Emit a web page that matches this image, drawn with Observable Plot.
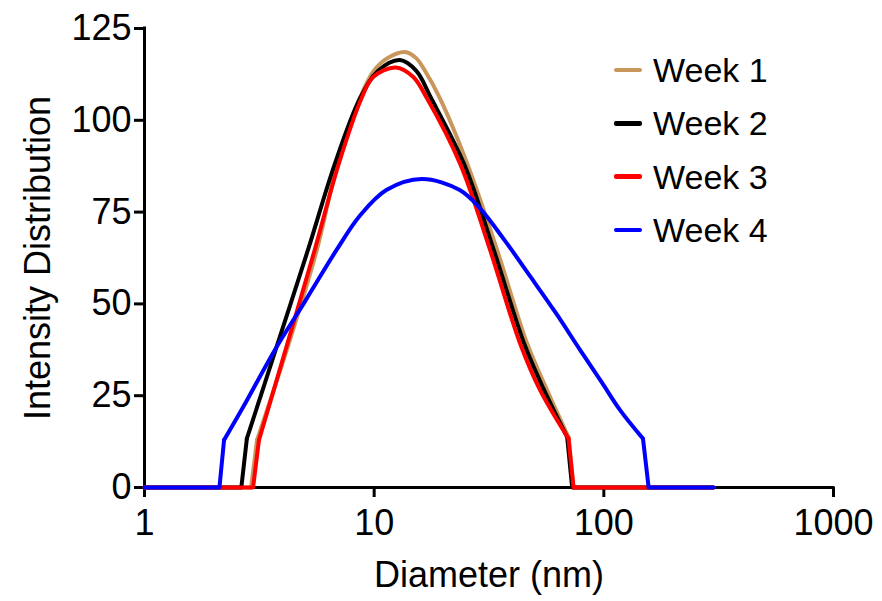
<!DOCTYPE html>
<html>
<head>
<meta charset="utf-8">
<script src="https://cdn.jsdelivr.net/npm/d3@7"></script>
<script src="https://cdn.jsdelivr.net/npm/@observablehq/plot@0.6"></script>
<style>
  html, body { margin: 0; padding: 0; background: #fff; overflow: hidden; }
  #wrap { position: relative; width: 882px; height: 601px; font-family: "Liberation Sans", Arial, sans-serif; }
  #legend { position: absolute; left: 614px; top: 43.3px; }
  .row { display: flex; align-items: center; height: 53.33px; font-size: 34px; line-height: 1; color: #000; }
  .sw { width: 28px; height: 4.5px; margin-right: 11px; border-radius: 2px; }
</style>
</head>
<body>
<div id="wrap"></div>
<script>
// ---- data ----
const seriesNames = ["Week 1", "Week 2", "Week 3", "Week 4"];
const seriesColors = ["#c9975c", "#000000", "#ff0000", "#0000ff"];

// diameters (nm) and intensity values; the first two and last two points are the flat zero tails
const week1D = [1, 2.91, 3.09, 4.16, 5.63, 6.91, 8.66, 9.97, 11.47, 13.61, 15.2, 16.64, 19.34, 25.5, 34.29, 46.35, 56.65, 70.3, 73.8, 300];
const week1V = [0, 0, 12.9, 37.4, 64.7, 88, 106, 113.5, 117, 118.6, 117, 113.5, 106, 88, 64.7, 39.2, 26.5, 13.6, 0, 0];

const week2D = [1, 2.64, 2.79, 3.72, 5.15, 6.73, 8.68, 10.41, 12.95, 15.23, 17.71, 24.67, 33.17, 44.97, 54.96, 69.26, 72.8, 300];
const week2V = [0, 0, 13.3, 37.4, 64.7, 88, 106, 113.5, 116.4, 113.5, 106, 88, 64.7, 39.2, 26.5, 13.7, 0, 0];

const week3D = [1, 2.97, 3.15, 4.11, 5.51, 7.00, 8.81, 9.90, 12.43, 14.80, 16.98, 23.74, 31.96, 43.19, 52.79, 70.18, 73.8, 300];
const week3V = [0, 0, 12.9, 37.4, 64.7, 88, 106, 111.8, 114.4, 111.8, 106, 88, 64.7, 39.2, 26.5, 13.3, 0, 0];

const week4D = [1, 2.12, 2.22, 2.70, 3.69, 5.0, 6.86, 8.66, 11.30, 16.11, 23.57, 28.9, 37.0, 47.8, 62.0, 78.9, 98.0, 117.9, 148.1, 156.7, 300];
const week4V = [0, 0, 12.9, 22.1, 37.4, 50.7, 64.7, 74, 81, 84, 81, 76, 67.3, 57.5, 47.4, 37.4, 28.6, 21.0, 13.3, 0, 0];

const xTicks = [1, 10, 100, 1000];
const yTicks = [0, 25, 50, 75, 100, 125];

// ---- build tables: straight tails + smooth body ----
const allD = [week1D, week2D, week3D, week4D];
const allV = [week1V, week2V, week3V, week4V];
const tails = [];
const bodies = [];
seriesNames.forEach((name, s) => {
  const D = allD[s], V = allV[s], n = D.length;
  D.forEach((d, i) => {
    const row = {week: name, d, v: V[i]};
    if (i <= 2) tails.push({...row, part: name + "-L"});
    if (i >= n - 3) tails.push({...row, part: name + "-R"});
    if (i >= 2 && i <= n - 3) bodies.push({...row, part: name + "-B"});
  });
});

const marks = [
  Plot.axisX({ticks: xTicks, tickFormat: d => String(d), tickSize: 10, tickPadding: 12, strokeWidth: 3, fontSize: 36, label: null}),
  Plot.axisY({ticks: yTicks, tickSize: 10, tickPadding: 3, strokeWidth: 3, fontSize: 36, label: null}),
  Plot.ruleY([0], {strokeWidth: 3, strokeLinecap: "square"}),
  Plot.ruleX([1], {strokeWidth: 3, strokeLinecap: "square"})
];
seriesNames.forEach(name => {
  marks.push(Plot.line(tails.filter(r => r.week === name), {x: "d", y: "v", z: "part", stroke: "week", strokeWidth: 4, curve: "linear"}));
  marks.push(Plot.line(bodies.filter(r => r.week === name), {x: "d", y: "v", z: "part", stroke: "week", strokeWidth: 4, curve: "catmull-rom"}));
});
marks.push(Plot.text(["Diameter (nm)"], {frameAnchor: "bottom", lineAnchor: "middle", dy: 88, fontSize: 36, fill: "#000"}));
marks.push(Plot.text(["Intensity Distribution"], {frameAnchor: "left", textAnchor: "middle", lineAnchor: "middle", dx: -106.5, rotate: -90, fontSize: 36, fill: "#000"}));

const chart = Plot.plot({
  width: 882,
  height: 601,
  marginLeft: 144,
  marginRight: 49,
  marginTop: 28,
  marginBottom: 114,
  style: {fontFamily: "'Liberation Sans', Arial, sans-serif", fontSize: "36px", color: "#000", background: "#fff"},
  x: {type: "log", domain: [1, 1000]},
  y: {domain: [0, 125]},
  color: {domain: seriesNames, range: seriesColors},
  marks
});

const wrap = document.getElementById("wrap");
wrap.appendChild(chart);

const legend = document.createElement("div");
legend.id = "legend";
seriesNames.forEach((name, i) => {
  const row = document.createElement("div");
  row.className = "row";
  const sw = document.createElement("div");
  sw.className = "sw";
  sw.style.background = seriesColors[i];
  const t = document.createElement("span");
  t.textContent = name;
  row.appendChild(sw);
  row.appendChild(t);
  legend.appendChild(row);
});
wrap.appendChild(legend);
</script>
</body>
</html>
